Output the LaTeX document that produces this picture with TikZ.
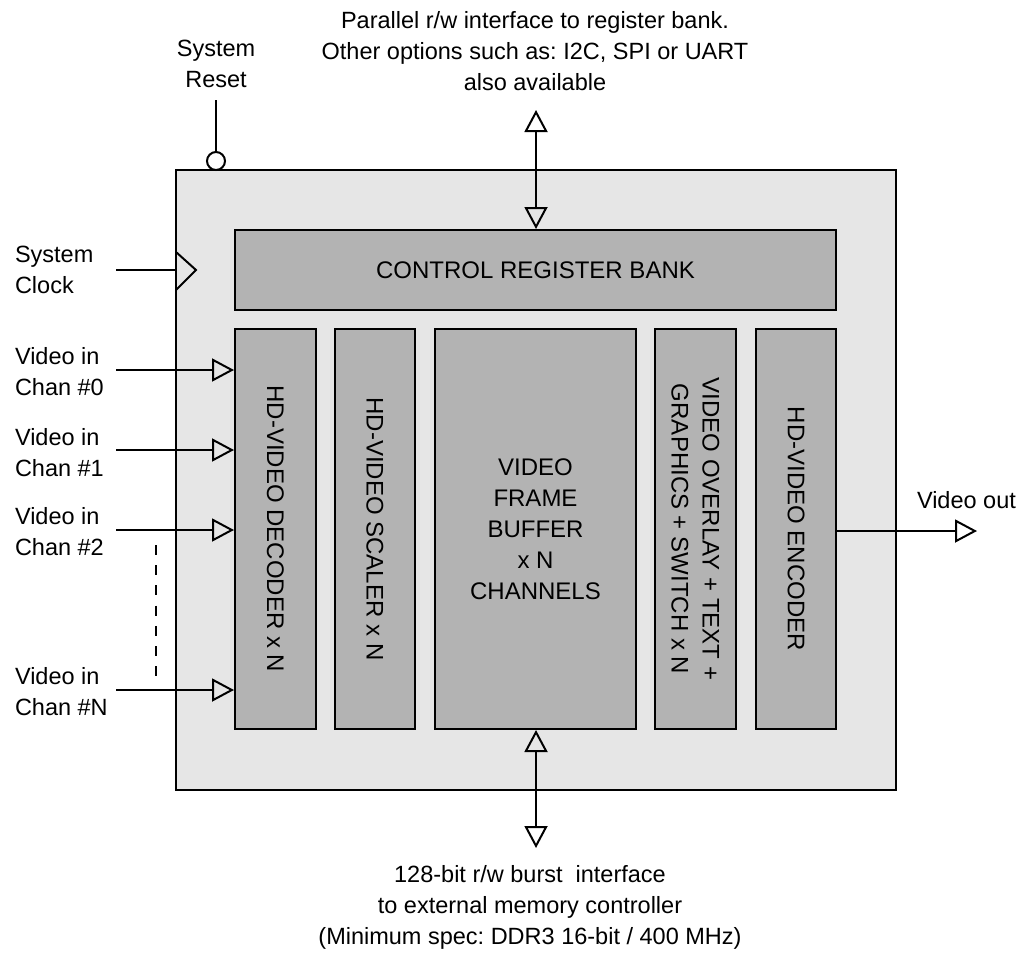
\documentclass[tikz,border=0pt]{standalone}
\usepackage{fontspec}
\setmainfont{Liberation Sans}
\usetikzlibrary{arrows.meta}
\definecolor{chipgray}{HTML}{E6E6E6}
\definecolor{blockgray}{HTML}{B3B3B3}
\begin{document}
\frenchspacing
\begin{tikzpicture}[x=1pt,y=-1pt, line width=2pt,
  every node/.style={font=\fontsize{23.5}{31}\selectfont\frenchspacing},
  blk/.style={draw, fill=blockgray, inner sep=0pt, align=center, font=\fontsize{24}{31}\selectfont},
  vtxt/.style={rotate=-90, align=center, font=\fontsize{24}{31}\selectfont},
  lbl/.style={align=left, anchor=west, inner sep=0pt},
  tip/.style={-{Triangle[open,length=22pt,width=23pt]}},
  dtip/.style={{Triangle[open,length=22pt,width=23pt]}-{Triangle[open,length=22pt,width=23pt]}}
]
\useasboundingbox (0,0) rectangle (1019,953);
% chip
\node[draw, fill=chipgray, minimum width=720pt, minimum height=620pt, inner sep=0pt] (chip) at (536,480) {};
% blocks
\node[blk, minimum width=601pt, minimum height=80pt] (ctrl) at (535.5,270) {CONTROL REGISTER BANK};
\node[blk, minimum width=81pt, minimum height=400pt] (dec) at (275.5,529) {};
\node[vtxt] at (dec.center) {HD-VIDEO DECODER x N};
\node[blk, minimum width=80pt, minimum height=400pt] (scl) at (375,529) {};
\node[vtxt] at (scl.center) {HD-VIDEO SCALER x N};
\node[blk, minimum width=201pt, minimum height=400pt] (fb) at (535.5,529) {VIDEO\\FRAME\\BUFFER\\x N\\CHANNELS};
\node[blk, minimum width=81pt, minimum height=400pt] (ovl) at (695.5,529) {};
\node[vtxt] at (ovl.center) {VIDEO OVERLAY + TEXT +\\GRAPHICS + SWITCH x N};
\node[blk, minimum width=80pt, minimum height=400pt] (enc) at (796,529) {};
\node[vtxt] at (enc.center) {HD-VIDEO ENCODER};

% reset
\node[draw, circle, fill=white, minimum size=18pt, inner sep=0pt] (rst) at (216,161) {};
\coordinate (rsttop) at (216,100);
\draw (rsttop) -- (rst.north);
\node[align=center] (rstlbl) at (216,64) {System\\Reset};

% clock
\coordinate (clk) at (116,270);
\draw (clk) -- (clk -| chip.west);
\draw[line join=miter] (176,252) -- (196,270) -- (176,290);
\node[lbl] (clklbl) at (14,270) {System\\Clock};

% video inputs
\coordinate (v0) at (116,370);
\coordinate (v1) at (116,450);
\coordinate (v2) at (116,530);
\coordinate (vn) at (116,690);
\draw[tip] (v0) -- (v0 -| dec.west);
\draw[tip] (v1) -- (v1 -| dec.west);
\draw[tip] (v2) -- (v2 -| dec.west);
\draw[tip] (vn) -- (vn -| dec.west);
\node[lbl] (l0) at (14,372) {Video in\\Chan \#0};
\node[lbl] (l1) at (14,453) {Video in\\Chan \#1};
\node[lbl] (l2) at (14,532) {Video in\\Chan \#2};
\node[lbl] (ln) at (14,692) {Video in\\Chan \#N};
\coordinate (dtop) at (156,545);
\coordinate (dbot) at (156,676);
\draw[dash pattern=on 10pt off 10.2pt] (dtop) -- (dbot);

% video out
\coordinate (vout) at (977,531);
\draw[tip] (vout -| enc.east) -- (vout);
\node[lbl] (voutlbl) at (916,500) {Video out};

% top interface
\coordinate (ptop) at (536,110);
\draw[dtip] (ptop) -- (ptop |- ctrl.north);
\node[align=center] (toplbl) at (535,51) {Parallel r/w interface to register bank.\\Other options such as: I2C, SPI or UART\\also available};

% bottom interface
\coordinate (pbot) at (536,848);
\draw[dtip] (pbot |- fb.south) -- (pbot);
\node[align=center] (botlbl) at (530,907) {128-bit r/w burst\ \ interface\\to external memory controller\\(Minimum spec: DDR3 16-bit / 400 MHz)};
\end{tikzpicture}
\end{document}
